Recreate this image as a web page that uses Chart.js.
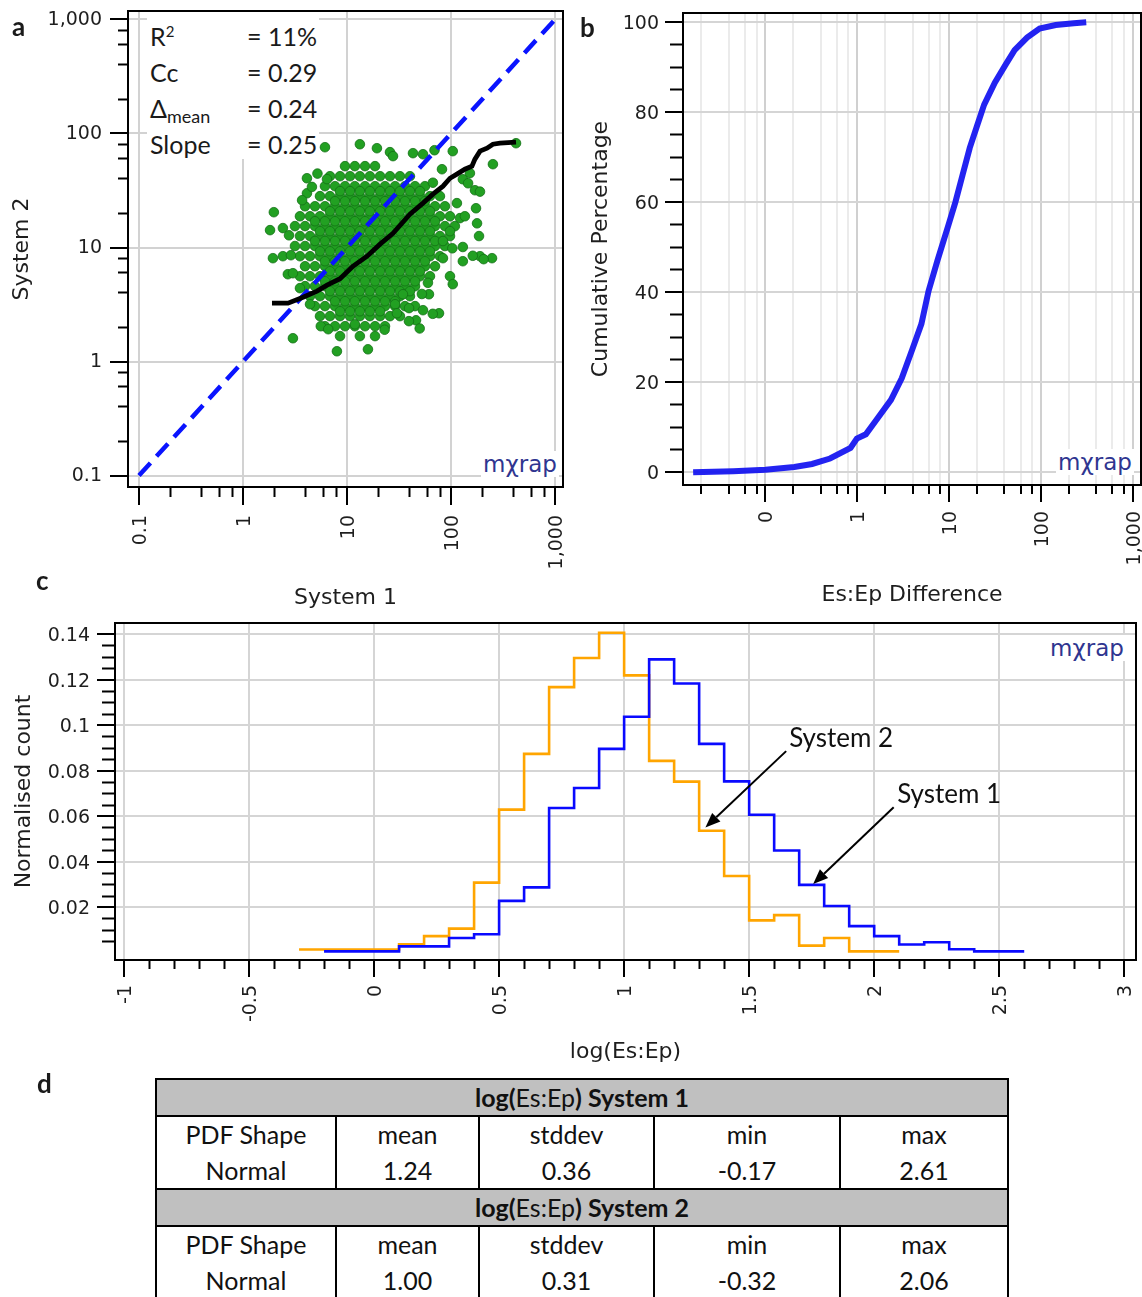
<!DOCTYPE html>
<html>
<head>
<meta charset="utf-8">
<script src="https://cdn.jsdelivr.net/npm/chart.js@4.4.1/dist/chart.umd.min.js"></script>
<style>
html,body{margin:0;padding:0;background:#fff}
#page{position:relative;width:1142px;height:1297px;overflow:hidden;background:#fff;color:#1a1a1a}
.cv{position:absolute}
.lbl{position:absolute;font-family:Lato,sans-serif;font-weight:700;font-size:26px;line-height:26px}
.logo{position:absolute;background:#fff;color:#2f3590;font-family:'DejaVu Sans',sans-serif;font-size:23px;line-height:26px;padding:0 2px}
#stats{position:absolute;left:147px;top:12px;width:172px;height:147px;background:#fff;font-family:Lato,sans-serif;font-size:25px;padding-top:6px;box-sizing:border-box}
#stats div{height:36px;line-height:36px;padding-left:3px;white-space:nowrap}
#stats span.k{display:inline-block;width:97px}
#stats sup{font-size:15px;line-height:0;vertical-align:9px}
#stats sub{font-size:18px;line-height:0;vertical-align:-5px}
#tbl{position:absolute;left:155px;top:1078px;width:852px;table-layout:fixed;border-collapse:collapse;font-family:Lato,sans-serif;font-size:25px;color:#111}
#tbl td{border:2px solid #000;text-align:center;padding:0;line-height:35.5px}
#tbl tr.hd td{background:#c0c0c0;height:35px;line-height:35px}
</style>
</head>
<body>
<div id="page">
  <canvas id="cA" class="cv" style="left:0;top:0" width="580" height="616"></canvas>
  <canvas id="cB" class="cv" style="left:580px;top:0" width="562" height="616"></canvas>
  <canvas id="cC" class="cv" style="left:0;top:600px" width="1142" height="475"></canvas>

  <div class="lbl" style="left:12px;top:13px">a</div>
  <div class="lbl" style="left:580px;top:14px">b</div>
  <div class="lbl" style="left:36px;top:567px">c</div>
  <div class="lbl" style="left:37px;top:1070px">d</div>

  <div id="stats">
    <div><span class="k">R<sup>2</sup></span>= 11%</div>
    <div><span class="k">Cc</span>= 0.29</div>
    <div><span class="k">&Delta;<sub>mean</sub></span>= 0.24</div>
    <div><span class="k">Slope</span>= 0.25</div>
  </div>

  <div class="logo" style="left:481px;top:451px">m&chi;rap</div>
  <div class="logo" style="left:1056px;top:449px">m&chi;rap</div>
  <div class="logo" style="left:1048px;top:635px">m&chi;rap</div>

  <table id="tbl">
    <colgroup><col style="width:180px"><col style="width:143px"><col style="width:175px"><col style="width:186px"><col style="width:168px"></colgroup>
    <tbody id="tbody"></tbody>
  </table>
</div>

<script>
// ---------- panel a: System 1 vs System 2 ----------
const aMajor = [0.1, 1, 10, 100, 1000];
const aMajorLabels = ['0.1', '1', '10', '100', '1,000'];
const aMinor = [0.2, 0.4, 0.6, 0.8, 2, 4, 6, 8, 20, 40, 60, 80, 200, 400, 600, 800];

// the cloud, read row by row (y value, then x values)
const cloudRowY = [51.7, 42.2, 34.5, 28.2, 23.0, 18.8, 15.4, 12.6, 10.3, 8.39, 6.85, 5.60, 4.58, 3.74, 3.06, 2.50, 2.04, 1.67];
const cloudRowX = [
  [9.57, 11.9, 14.9, 18.6],
  [6.86, 8.57, 10.7, 13.3, 16.6, 20.8, 25.9, 32.3, 40.3],
  [6.14, 7.67, 9.57, 11.9, 14.9, 18.6, 23.2, 29.0, 36.1, 45.1, 56.2],
  [5.50, 6.86, 8.57, 10.7, 13.3, 16.6, 20.8, 25.9, 32.3, 40.3, 50.3, 62.8, 78.3],
  [3.95, 4.92, 6.14, 7.67, 9.57, 11.9, 14.9, 18.6, 23.2, 29.0, 36.1, 45.1, 56.2, 70.2, 87.5],
  [3.53, 4.41, 5.50, 6.86, 8.57, 10.7, 13.3, 16.6, 20.8, 25.9, 32.3, 40.3, 50.3, 62.8, 78.3, 97.8],
  [3.16, 3.95, 4.92, 6.14, 7.67, 9.57, 11.9, 14.9, 18.6, 23.2, 29.0, 36.1, 45.1, 56.2, 70.2, 87.5, 109],
  [3.53, 4.41, 5.50, 6.86, 8.57, 10.7, 13.3, 16.6, 20.8, 25.9, 32.3, 40.3, 50.3, 62.8, 78.3, 97.8],
  [3.16, 3.95, 4.92, 6.14, 7.67, 9.57, 11.9, 14.9, 18.6, 23.2, 29.0, 36.1, 45.1, 56.2, 70.2, 87.5],
  [3.53, 4.41, 5.50, 6.86, 8.57, 10.7, 13.3, 16.6, 20.8, 25.9, 32.3, 40.3, 50.3, 62.8, 78.3],
  [3.95, 4.92, 6.14, 7.67, 9.57, 11.9, 14.9, 18.6, 23.2, 29.0, 36.1, 45.1, 56.2, 70.2],
  [3.53, 4.41, 5.50, 6.86, 8.57, 10.7, 13.3, 16.6, 20.8, 25.9, 32.3, 40.3, 50.3, 62.8],
  [3.95, 4.92, 6.14, 7.67, 9.57, 11.9, 14.9, 18.6, 23.2, 29.0, 36.1, 45.1],
  [4.41, 5.50, 6.86, 8.57, 10.7, 13.3, 16.6, 20.8, 25.9, 32.3, 40.3],
  [4.92, 6.14, 7.67, 9.57, 11.9, 14.9, 18.6, 23.2, 29.0, 36.1, 45.1],
  [5.50, 6.86, 8.57, 10.7, 13.3, 16.6, 20.8, 25.9, 32.3],
  [6.14, 7.67, 9.57, 11.9, 14.9, 18.6, 23.2],
  [8.57, 13.3, 18.6]
];
// in-between rows of the packed core
const fillRowY = [31.2, 25.5, 20.8, 17.0, 13.9, 11.4, 9.27, 7.58, 6.19, 5.06, 4.14, 3.38, 2.76];
const fillRowX = [
  [8.57, 10.7, 13.3, 16.6, 20.8, 25.9, 32.3, 40.3, 50.3],
  [7.67, 9.57, 11.9, 14.9, 18.6, 23.2, 29.0, 36.1, 45.1, 56.2],
  [6.86, 8.57, 10.7, 13.3, 16.6, 20.8, 25.9, 32.3, 40.3, 50.3, 62.8],
  [4.92, 6.14, 7.67, 9.57, 11.9, 14.9, 18.6, 23.2, 29.0, 36.1, 45.1, 56.2, 70.2],
  [5.50, 6.86, 8.57, 10.7, 13.3, 16.6, 20.8, 25.9, 32.3, 40.3, 50.3, 62.8],
  [4.92, 6.14, 7.67, 9.57, 11.9, 14.9, 18.6, 23.2, 29.0, 36.1, 45.1, 56.2, 70.2],
  [5.50, 6.86, 8.57, 10.7, 13.3, 16.6, 20.8, 25.9, 32.3, 40.3, 50.3, 62.8],
  [6.14, 7.67, 9.57, 11.9, 14.9, 18.6, 23.2, 29.0, 36.1, 45.1, 56.2],
  [6.86, 8.57, 10.7, 13.3, 16.6, 20.8, 25.9, 32.3, 40.3, 50.3],
  [6.14, 7.67, 9.57, 11.9, 14.9, 18.6, 23.2, 29.0, 36.1, 45.1],
  [6.86, 8.57, 10.7, 13.3, 16.6, 20.8, 25.9, 32.3, 40.3],
  [7.67, 9.57, 11.9, 14.9, 18.6, 23.2, 29.0],
  [8.57, 10.7, 13.3, 16.6, 20.8]
];
// scattered points around the cloud
const outliers = [
  [6.14, 75.8], [13.3, 80.5], [19.4, 74.3], [25.9, 68.6], [27.7, 63.3], [4.12, 40.5], [6.42, 39.8],
  [4.12, 29.9], [1.98, 20.4], [1.82, 14.2], [2.42, 14.8], [2.77, 12.8], [1.94, 8.06], [2.42, 8.39],
  [2.89, 8.56], [3.02, 1.60], [8.0, 1.23], [15.9, 1.28], [11.9, 2.12], [5.6, 2.04], [6.6, 1.92],
  [4.41, 3.18], [3.53, 4.40], [2.7, 5.83], [3.02, 5.95], [29.0, 3.18], [30.2, 2.65], [422, 82.2],
  [104, 70.0], [253, 53.8], [43.1, 67.2], [53.8, 65.8], [69.4, 71.3], [81.9, 48.6], [152, 44.9],
  [170, 31.8], [190, 30.9], [130, 39.7], [146, 36.6], [174, 22.1], [178, 16.3], [186, 12.6],
  [130, 10.1], [190, 8.39], [248, 8.06], [130, 7.58], [97.8, 5.60], [104, 4.77], [83.7, 8.06],
  [76.7, 2.65], [46.1, 2.30], [53.8, 2.82], [61.4, 3.89], [34.5, 3.89], [39.5, 2.94], [114, 24.5],
  [122, 18.1], [136, 18.8], [97.8, 13.9], [83.7, 11.4], [103, 9.84], [162, 8.46], [206, 7.9],
  [39.4, 2.26], [66.8, 2.62], [52.5, 3.91], [5.2, 44.5], [4.6, 34.0], [3.7, 26.0], [67, 37],
  [60, 4.9], [50, 1.95], [23, 1.9]
];
const fitX = [1.90, 2.71, 3.78, 5.15, 6.43, 8.57, 11.4, 15.6, 20.8, 27.7, 40.3, 53.8, 67.1, 83.8, 97.8, 114, 136, 159, 170, 190, 222, 253, 296, 422];
const fitY = [3.25, 3.25, 3.66, 4.14, 4.67, 5.32, 6.85, 8.39, 10.7, 13.3, 19.6, 24.5, 29.4, 34.5, 40.5, 44.0, 48.6, 51.7, 59.6, 70.0, 74.3, 80.5, 82.2, 84.0];
const oneToOne = [0.1, 1000];

// ---------- panel b: cumulative percentage ----------
const bMajor = [0.1, 1, 10, 100, 1000];
const bMajorLabels = ['0', '1', '10', '100', '1,000'];
const bMinor = [0.02, 0.04, 0.06, 0.08, 0.2, 0.4, 0.6, 0.8, 2, 4, 6, 8, 20, 40, 60, 80, 200, 400, 600, 800];
const bYMajor = [0, 20, 40, 60, 80, 100];
const bYMinor = [5, 10, 15, 25, 30, 35, 45, 50, 55, 65, 70, 75, 85, 90, 95];
const cumX = [0.0163, 0.0447, 0.1, 0.206, 0.322, 0.505, 0.844, 0.99, 1.24, 1.62, 2.33, 3.05, 3.99, 5.0, 5.98, 7.48, 9.8, 11.7, 14.0, 16.8, 20.1, 24.1, 31.5, 41.3, 51.7, 70.7, 96.9, 145, 228, 312];
const cumPct = [0, 0.24, 0.56, 1.2, 1.85, 3.06, 5.4, 7.5, 8.45, 11.7, 16.1, 20.9, 27.4, 33.0, 40.3, 47.1, 54.8, 60.0, 66.0, 72.1, 76.9, 81.7, 86.6, 90.6, 93.8, 96.6, 98.6, 99.4, 99.8, 100];

// ---------- panel c: histograms of log(Es:Ep) ----------
const cXMajor = [-1, -0.5, 0, 0.5, 1, 1.5, 2, 2.5, 3];
const cXLabels = ['-1', '-0.5', '0', '0.5', '1', '1.5', '2', '2.5', '3'];
const cXMinor = [-0.9, -0.8, -0.7, -0.6, -0.4, -0.3, -0.2, -0.1, 0.1, 0.2, 0.3, 0.4, 0.6, 0.7, 0.8, 0.9,
  1.1, 1.2, 1.3, 1.4, 1.6, 1.7, 1.8, 1.9, 2.1, 2.2, 2.3, 2.4, 2.6, 2.7, 2.8, 2.9];
const cYMajor = [0.02, 0.04, 0.06, 0.08, 0.1, 0.12, 0.14];
const cYLabels = ['0.02', '0.04', '0.06', '0.08', '0.1', '0.12', '0.14'];
const cYMinor = [0.005, 0.01, 0.015, 0.025, 0.03, 0.035, 0.045, 0.05, 0.055, 0.065, 0.07, 0.075, 0.085, 0.09, 0.095,
  0.105, 0.11, 0.115, 0.125, 0.13, 0.135];
// bin edges and normalised counts
const sys1Edges = [-0.2, -0.1, 0, 0.1, 0.2, 0.3, 0.4, 0.5, 0.6, 0.7, 0.8, 0.9, 1.0, 1.1, 1.2, 1.3, 1.4, 1.5, 1.6, 1.7, 1.8, 1.9, 2.0, 2.1, 2.2, 2.3, 2.4, 2.5, 2.6];
const sys1Counts = [0.0007, 0.0007, 0.0007, 0.0029, 0.0029, 0.0066, 0.0082, 0.0229, 0.0288, 0.0637, 0.0725, 0.0897, 0.1038, 0.129, 0.1184, 0.0919, 0.0754, 0.0607, 0.045, 0.0299, 0.0206, 0.0118, 0.0074, 0.0037, 0.0047, 0.0016, 0.0007, 0.0007];
const sys2Edges = [-0.3, -0.2, -0.1, 0, 0.1, 0.2, 0.3, 0.4, 0.5, 0.6, 0.7, 0.8, 0.9, 1.0, 1.1, 1.2, 1.3, 1.4, 1.5, 1.6, 1.7, 1.8, 1.9, 2.0, 2.1];
const sys2Counts = [0.0015, 0.0015, 0.0015, 0.0015, 0.0038, 0.0074, 0.0107, 0.0309, 0.063, 0.0875, 0.1168, 0.1296, 0.1407, 0.122, 0.0844, 0.0753, 0.0537, 0.0338, 0.0143, 0.0166, 0.0032, 0.0066, 0.0007, 0.0007];

// ---------- panel d: table ----------
const statHeads = ['PDF Shape', 'mean', 'stddev', 'min', 'max'];
const sys1Stats = ['Normal', '1.24', '0.36', '-0.17', '2.61'];
const sys2Stats = ['Normal', '1.00', '0.31', '-0.32', '2.06'];

// ---------- helpers ----------
const tickFont = { family: 'DejaVu Sans', size: 19 };
const titleFont = { family: 'DejaVu Sans', size: 22 };
const ink = '#1e1e1e';
const setTicks = vals => s => { s.ticks = vals.map(v => ({ value: v })); };
const fixW = w => s => { s.width = w; s.paddingTop = 0; s.paddingBottom = 0; s.paddingLeft = 0; s.paddingRight = 0; };
const fixH = h => s => { s.height = h; s.paddingLeft = 0; s.paddingRight = 0; s.paddingTop = 0; s.paddingBottom = 0; };

const frame = {
  id: 'frame',
  afterDraw(c) {
    const a = c.chartArea, g = c.ctx;
    g.save(); g.strokeStyle = '#000'; g.lineWidth = 2;
    g.strokeRect(a.left, a.top, a.right - a.left, a.bottom - a.top);
    g.restore();
  }
};

const base = {
  responsive: false, animation: false, devicePixelRatio: 1, events: [],
  plugins: { legend: { display: false }, tooltip: { enabled: false } }
};

// ---------- chart a ----------
const cloud = [];
cloudRowY.forEach((y, i) => cloudRowX[i].forEach(x => cloud.push({ x, y })));
fillRowY.forEach((y, i) => fillRowX[i].forEach(x => cloud.push({ x, y })));
outliers.forEach(p => cloud.push({ x: p[0], y: p[1] }));

const aMin = 0.0784, aMax = 1194, aYMin = 0.0793, aYMax = 1187;
new Chart(document.getElementById('cA'), {
  type: 'scatter',
  data: {
    datasets: [
      { data: fitX.map((x, i) => ({ x, y: fitY[i] })), showLine: true, borderColor: '#000', borderWidth: 4.8, pointRadius: 0 },
      { data: oneToOne.map(v => ({ x: v, y: v })), showLine: true, borderColor: '#0a14ff', borderWidth: 4.5, borderDash: [17, 9], pointRadius: 0 },
      { data: cloud, pointRadius: 4.8, backgroundColor: '#22a022', borderColor: '#137015', borderWidth: 0.8 }
    ]
  },
  options: Object.assign({}, base, {
    layout: { padding: { left: 0, top: 11, right: 17, bottom: 0 } },
    scales: {
      x: { type: 'logarithmic', position: 'bottom', weight: 1, min: aMin, max: aMax,
        afterBuildTicks: setTicks(aMajor), afterFit: fixH(129),
        grid: { color: '#d2d2d2', lineWidth: 2, tickLength: 18, tickColor: '#000', tickWidth: 2 },
        border: { display: false },
        ticks: { autoSkip: false, minRotation: 90, maxRotation: 90, padding: 10, labelOffset: 2, font: tickFont, color: ink, callback: (v, i) => aMajorLabels[i] },
        title: { display: true, text: 'System 1', font: titleFont, color: ink, padding: { top: 0, bottom: 5 } } },
      x2: { type: 'logarithmic', position: 'bottom', weight: 0, display: true, min: aMin, max: aMax,
        afterBuildTicks: setTicks(aMinor), afterFit: fixH(0),
        grid: { drawOnChartArea: false, tickLength: 10, tickColor: '#000', tickWidth: 2 },
        border: { display: false }, ticks: { display: false } },
      y: { type: 'logarithmic', position: 'left', weight: 1, min: aYMin, max: aYMax,
        afterBuildTicks: setTicks(aMajor), afterFit: fixW(128),
        grid: { color: '#d2d2d2', lineWidth: 2, tickLength: 18, tickColor: '#000', tickWidth: 2 },
        border: { display: false },
        ticks: { autoSkip: false, padding: 8, labelOffset: 1, font: tickFont, color: ink, callback: (v, i) => aMajorLabels[i] },
        title: { display: true, text: 'System 2', font: titleFont, color: ink, padding: { top: 9, bottom: 0 } } },
      y2: { type: 'logarithmic', position: 'left', weight: 0, display: true, min: aYMin, max: aYMax,
        afterBuildTicks: setTicks(aMinor), afterFit: fixW(0),
        grid: { drawOnChartArea: false, tickLength: 10, tickColor: '#000', tickWidth: 2 },
        border: { display: false }, ticks: { display: false } }
    }
  }),
  plugins: [frame]
});

// ---------- chart b ----------
const bMin = 0.01264, bMax = 1232, bYMin = -2.82, bYMax = 102.07;
new Chart(document.getElementById('cB'), {
  type: 'scatter',
  data: {
    datasets: [
      { data: cumX.map((x, i) => ({ x, y: cumPct[i] })), showLine: true, borderColor: 'rgba(16,16,240,0.92)', borderWidth: 6, pointRadius: 0 }
    ]
  },
  options: Object.assign({}, base, {
    layout: { padding: { left: 0, top: 13, right: 1, bottom: 0 } },
    scales: {
      x: { type: 'logarithmic', position: 'bottom', weight: 1, min: bMin, max: bMax,
        afterBuildTicks: setTicks(bMajor), afterFit: fixH(131),
        grid: { color: '#d0d0d0', lineWidth: 2, tickLength: 17, tickColor: '#000', tickWidth: 2 },
        border: { display: false },
        ticks: { autoSkip: false, minRotation: 90, maxRotation: 90, padding: 9, labelOffset: 2, font: tickFont, color: ink, callback: (v, i) => bMajorLabels[i] },
        title: { display: true, text: 'Es:Ep Difference', font: titleFont, color: ink, padding: { top: 0, bottom: 8 } } },
      x2: { type: 'logarithmic', position: 'bottom', weight: 0, display: true, min: bMin, max: bMax,
        afterBuildTicks: setTicks(bMinor), afterFit: fixH(0),
        grid: { color: '#ebebeb', lineWidth: 2, tickLength: 9, tickColor: '#000', tickWidth: 2 },
        border: { display: false }, ticks: { display: false } },
      y: { type: 'linear', position: 'left', weight: 1, min: bYMin, max: bYMax,
        afterBuildTicks: setTicks(bYMajor), afterFit: fixW(103),
        grid: { color: '#d5d5d5', lineWidth: 2, tickLength: 18, tickColor: '#000', tickWidth: 2 },
        border: { display: false },
        ticks: { autoSkip: false, padding: 6, labelOffset: 1.5, font: tickFont, color: ink, callback: v => String(v) },
        title: { display: true, text: 'Cumulative Percentage', font: titleFont, color: ink, padding: { top: 8, bottom: 0 } } },
      y2: { type: 'linear', position: 'left', weight: 0, display: true, min: bYMin, max: bYMax,
        afterBuildTicks: setTicks(bYMinor), afterFit: fixW(0),
        grid: { drawOnChartArea: false, tickLength: 13, tickColor: '#000', tickWidth: 2 },
        border: { display: false }, ticks: { display: false } }
    }
  }),
  plugins: [frame]
});

// ---------- chart c ----------
const notes = [
  { text: 'System 2', tx: 1.66, ty: 0.0943, from: [1.648, 0.0887], to: [1.325, 0.0551] },
  { text: 'System 1', tx: 2.092, ty: 0.0698, from: [2.078, 0.064], to: [1.756, 0.0303] }
];
const arrowNotes = {
  id: 'arrowNotes',
  afterDatasetsDraw(c) {
    const g = c.ctx, sx = c.scales.x, sy = c.scales.y;
    g.save();
    g.strokeStyle = '#000'; g.lineWidth = 2;
    notes.forEach(n => {
      const x1 = sx.getPixelForValue(n.from[0]), y1 = sy.getPixelForValue(n.from[1]);
      const x2 = sx.getPixelForValue(n.to[0]), y2 = sy.getPixelForValue(n.to[1]);
      const ang = Math.atan2(y2 - y1, x2 - x1), hl = 15, hw = 6;
      const bx = x2 - hl * Math.cos(ang), by = y2 - hl * Math.sin(ang);
      g.beginPath(); g.moveTo(x1, y1); g.lineTo(bx, by); g.stroke();
      g.fillStyle = '#000';
      g.beginPath();
      g.moveTo(x2, y2);
      g.lineTo(bx + hw * Math.sin(ang), by - hw * Math.cos(ang));
      g.lineTo(bx - hw * Math.sin(ang), by + hw * Math.cos(ang));
      g.closePath(); g.fill();
      g.font = '26px Lato, sans-serif'; g.textAlign = 'left'; g.textBaseline = 'middle';
      g.fillStyle = '#111';
      g.fillText(n.text, sx.getPixelForValue(n.tx), sy.getPixelForValue(n.ty));
    });
    g.restore();
  }
};
// each bin drawn flat from its left edge to the next edge
const steps = (edges, counts) => edges.map((e, i) => ({ x: e, y: counts[Math.min(i, counts.length - 1)] }));

const cMin = -1.036, cMax = 3.047, cYMin = -0.0031, cYMax = 0.145;
new Chart(document.getElementById('cC'), {
  type: 'scatter',
  data: {
    datasets: [
      { label: 'System 1', data: steps(sys1Edges, sys1Counts), showLine: true, stepped: 'before', borderColor: '#0a0aff', borderWidth: 2.6, pointRadius: 0 },
      { label: 'System 2', data: steps(sys2Edges, sys2Counts), showLine: true, stepped: 'before', borderColor: '#ffa500', borderWidth: 2.6, pointRadius: 0 }
    ]
  },
  options: Object.assign({}, base, {
    layout: { padding: { left: 0, top: 23, right: 6, bottom: 0 } },
    scales: {
      x: { type: 'linear', position: 'bottom', weight: 1, min: cMin, max: cMax,
        afterBuildTicks: setTicks(cXMajor), afterFit: fixH(115),
        grid: { color: '#d5d5d5', lineWidth: 2, tickLength: 17, tickColor: '#000', tickWidth: 2 },
        border: { display: false },
        ticks: { autoSkip: false, minRotation: 90, maxRotation: 90, padding: 8, labelOffset: 2, font: tickFont, color: ink, callback: (v, i) => cXLabels[i] },
        title: { display: true, text: 'log(Es:Ep)', font: titleFont, color: ink, padding: { top: 0, bottom: 10 } } },
      x2: { type: 'linear', position: 'bottom', weight: 0, display: true, min: cMin, max: cMax,
        afterBuildTicks: setTicks(cXMinor), afterFit: fixH(0),
        grid: { drawOnChartArea: false, tickLength: 9, tickColor: '#000', tickWidth: 2 },
        border: { display: false }, ticks: { display: false } },
      y: { type: 'linear', position: 'left', weight: 1, min: cYMin, max: cYMax,
        afterBuildTicks: setTicks(cYMajor), afterFit: fixW(115),
        grid: { color: '#d5d5d5', lineWidth: 2, tickLength: 18, tickColor: '#000', tickWidth: 2 },
        border: { display: false },
        ticks: { autoSkip: false, padding: 7, labelOffset: 2, font: tickFont, color: ink, callback: (v, i) => cYLabels[i] },
        title: { display: true, text: 'Normalised count', font: titleFont, color: ink, padding: { top: 11, bottom: 0 } } },
      y2: { type: 'linear', position: 'left', weight: 0, display: true, min: cYMin, max: cYMax,
        afterBuildTicks: setTicks(cYMinor), afterFit: fixW(0),
        grid: { drawOnChartArea: false, tickLength: 13, tickColor: '#000', tickWidth: 2 },
        border: { display: false }, ticks: { display: false } }
    }
  }),
  plugins: [frame, arrowNotes]
});

// ---------- table d ----------
function headRow(name) {
  return '<tr class="hd"><td colspan="5"><b>log(</b>Es:Ep<b>) ' + name + '</b></td></tr>';
}
function bodyRow(vals) {
  return '<tr>' + statHeads.map((h, i) => '<td>' + h + '<br>' + vals[i] + '</td>').join('') + '</tr>';
}
document.getElementById('tbody').innerHTML =
  headRow('System 1') + bodyRow(sys1Stats) + headRow('System 2') + bodyRow(sys2Stats);
</script>
</body>
</html>
